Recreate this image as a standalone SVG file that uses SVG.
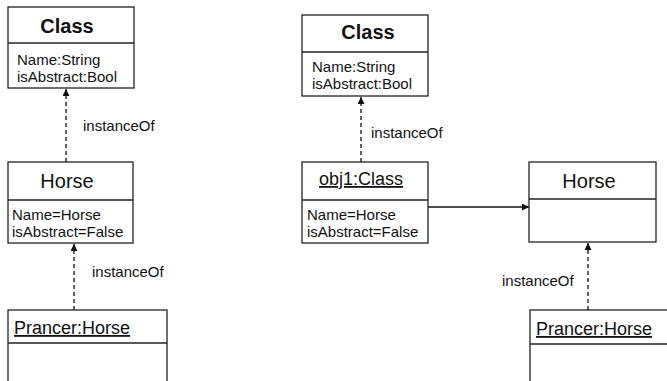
<svg xmlns="http://www.w3.org/2000/svg" width="667" height="381" viewBox="0 0 667 381">
  <style>
    .box { fill: #ffffff; stroke: #222222; stroke-width: 1.3; }
    .div { stroke: #222222; stroke-width: 1.3; }
    .t { font-family: "Liberation Sans", Arial, sans-serif; fill: #111111; }
    .title { font-size: 20px; font-weight: bold; text-anchor: middle; }
    .name { font-size: 20px; text-anchor: middle; }
    .obj { font-size: 18px; text-decoration: underline; }
    .attr { font-size: 15px; }
    .lbl { font-size: 15px; }
    .dash { fill: none; stroke: #111111; stroke-width: 1.3; stroke-dasharray: 4 3; }
    .solid { fill: none; stroke: #111111; stroke-width: 1.3; }
  </style>
  <defs>
    <marker id="arrow" viewBox="0 0 10 10" refX="10" refY="5" markerWidth="7" markerHeight="7" orient="auto" markerUnits="userSpaceOnUse">
      <path d="M0,0 L10,5 L0,10 z" fill="#111111"/>
    </marker>
  </defs>
  <rect width="667" height="381" fill="#ffffff"/>

  <!-- connectors -->
  <g id="connectors">
    <line class="dash" x1="66" y1="162" x2="66" y2="89" marker-end="url(#arrow)"/>
    <text class="t lbl" x="83" y="131">instanceOf</text>
    <line class="dash" x1="74" y1="310" x2="74" y2="244" marker-end="url(#arrow)"/>
    <text class="t lbl" x="92" y="277">instanceOf</text>
    <line class="dash" x1="361" y1="162" x2="361" y2="97" marker-end="url(#arrow)"/>
    <text class="t lbl" x="371" y="138">instanceOf</text>
    <line class="solid" x1="428" y1="207" x2="529" y2="207" marker-end="url(#arrow)"/>
    <line class="dash" x1="588" y1="310" x2="588" y2="243" marker-end="url(#arrow)"/>
    <text class="t lbl" x="502" y="286">instanceOf</text>
  </g>

  <!-- left column -->
  <g id="class-left">
    <rect class="box" x="8" y="7" width="126" height="81"/>
    <line class="div" x1="8" y1="43" x2="134" y2="43"/>
    <text class="t title" x="67" y="33">Class</text>
    <text class="t attr" x="17" y="65">Name:String</text>
    <text class="t attr" x="17" y="82">isAbstract:Bool</text>
  </g>

  <g id="horse-left">
    <rect class="box" x="8" y="162" width="125" height="81"/>
    <line class="div" x1="8" y1="200" x2="133" y2="200"/>
    <text class="t name" x="67" y="188">Horse</text>
    <text class="t attr" x="12" y="220">Name=Horse</text>
    <text class="t attr" x="12" y="237">isAbstract=False</text>
  </g>

  <g id="prancer-left">
    <rect class="box" x="8" y="310" width="159" height="80"/>
    <line class="div" x1="8" y1="343" x2="167" y2="343"/>
    <text class="t obj" x="14" y="334">Prancer:Horse</text>
  </g>

  <!-- right column -->
  <g id="class-right">
    <rect class="box" x="302" y="15" width="126" height="81"/>
    <line class="div" x1="302" y1="52" x2="428" y2="52"/>
    <text class="t title" x="368" y="39">Class</text>
    <text class="t attr" x="312" y="72">Name:String</text>
    <text class="t attr" x="312" y="89">isAbstract:Bool</text>
  </g>

  <g id="obj1">
    <rect class="box" x="302" y="162" width="126" height="81"/>
    <line class="div" x1="302" y1="200" x2="428" y2="200"/>
    <text class="t obj" x="319" y="185">obj1:Class</text>
    <text class="t attr" x="307" y="220">Name=Horse</text>
    <text class="t attr" x="307" y="237">isAbstract=False</text>
  </g>

  <g id="horse-right">
    <rect class="box" x="529" y="162" width="127" height="80"/>
    <line class="div" x1="529" y1="199" x2="656" y2="199"/>
    <text class="t name" x="589" y="188">Horse</text>
  </g>

  <g id="prancer-right">
    <rect class="box" x="530" y="310" width="160" height="80"/>
    <line class="div" x1="530" y1="344" x2="690" y2="344"/>
    <text class="t obj" x="536" y="335">Prancer:Horse</text>
  </g>
</svg>
